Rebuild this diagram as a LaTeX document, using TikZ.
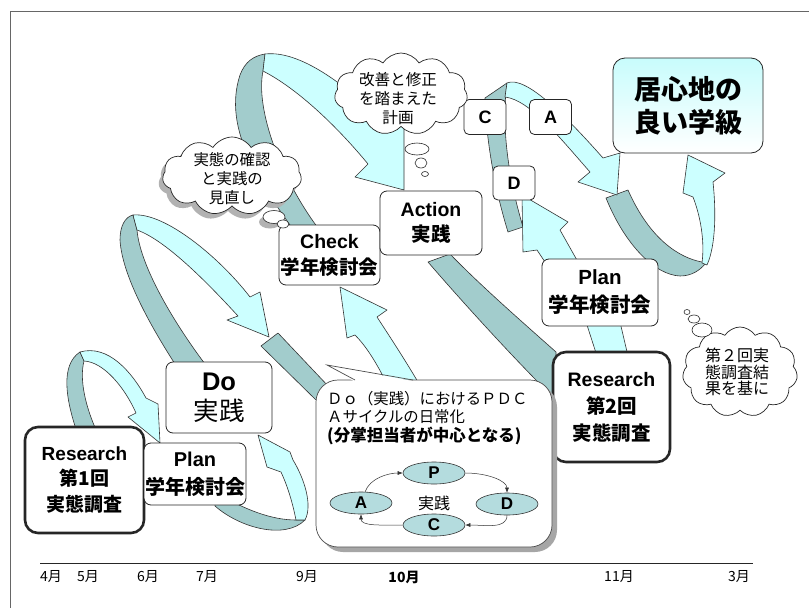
\documentclass[tikz,border=0pt]{standalone}
\usepackage{fontspec}
\setmainfont{Liberation Sans}
\newfontfamily\jp{Noto Sans CJK JP}
\usetikzlibrary{shapes.geometric,shapes.symbols,shadows,arrows.meta}
\definecolor{ribfront}{HTML}{CCFFFF}
\definecolor{ribback}{HTML}{A2CCCC}
\definecolor{ribedge}{HTML}{333333}
\definecolor{ellfill}{HTML}{B4DCDE}
\definecolor{goaltop}{HTML}{C8FCFC}
\newcommand\fs[2]{\fontsize{#1}{#2}\selectfont}
\begin{document}
\begin{tikzpicture}[x=1pt,y=-1pt,
 back/.style={fill=ribback, draw=ribedge, line width=0.6pt, line join=round},
 front/.style={fill=ribfront, draw=ribedge, line width=0.6pt, line join=round},
 box/.style={draw=black!85, fill=white, rounded corners=7pt, line width=0.8pt, align=center, inner sep=1pt},
 rbox/.style={box, line width=2.6pt, rounded corners=13pt},
 letterbox/.style={box, font=\fs{18}{20}\bfseries, rounded corners=5pt, minimum width=42pt, minimum height=35pt},
 month/.style={font=\jp\fs{14}{16}, inner sep=0pt},
 thought/.style={cloud, cloud puffs=11, cloud puff arc=115, cloud ignores aspect, draw=black!85, fill=white, line width=0.7pt, inner sep=0pt},
 ctext/.style={align=center, inner sep=0pt},
 bubble/.style={ellipse, draw=black!85, fill=white, line width=0.6pt, inner sep=0pt},
 pdca/.style={ellipse, draw=black!80, fill=ellfill, line width=0.6pt, minimum width=62pt, minimum height=22pt, inner sep=0pt, font=\fs{17}{18}\bfseries},
 cyc/.style={draw=black!80, line width=0.5pt, -{Latex[length=5pt,width=4pt]}},
 lshad/.style={drop shadow={shadow xshift=-4pt, shadow yshift=-5pt, fill=black!30, opacity=1}},
]
\useasboundingbox (0,0) rectangle (809,608);
\fill[white] (0,0) rectangle (809,608);
% frame
\draw[black!60, line width=0.8pt] (10,608) -- (10,11) -- (809,11);
% timeline
\draw[black!85, line width=0.7pt] (40,563) -- (753,563);
\node[month] (m4) at (51,577) {4月};
\node[month] (m5) at (88,577) {5月};
\node[month] (m6) at (148,577) {6月};
\node[month] (m7) at (207,577) {7月};
\node[month] (m9) at (307,577) {9月};
\node[month, font=\jp\fs{14}{16}\bfseries] (m10) at (404,577) {10月};
\node[month] (m11) at (619,577) {11月};
\node[month] (m3) at (739,577) {3月};

% ---------- ribbons: back sides ----------
\path[back] (77,432) .. controls (66,400) and (60,365) .. (80,352) -- (84,361) .. controls (79,380) and (86,408) .. (97,432) -- cycle;
\path[back] (215,492) .. controls (245,510) and (272,520) .. (296,520) -- (305,520) .. controls (285,540) and (240,528) .. (215,506) -- cycle;
\path[back] (175,364) .. controls (150,325) and (122,275) .. (120,240) .. controls (120,226) and (125,217) .. (133,215) -- (137,230) .. controls (140,265) and (172,320) .. (205,364) -- cycle;
\path[back] (261,346) -- (278,333) -- (330,388) -- (316,400) -- cycle;
\path[back] (292,228) .. controls (262,185) and (222,130) .. (240,75) .. controls (245,62) and (253,56) .. (265,54) -- (263,71) .. controls (255,110) and (282,180) .. (318,228) -- cycle;
\path[back] (428,262) -- (450,254) .. controls (480,285) and (520,320) .. (556,352) -- (556,400) .. controls (520,365) and (465,305) .. (428,262) -- cycle;
\path[back] (507,83) -- (485,98) .. controls (486,140) and (495,190) .. (508,232) -- (523,227) .. controls (512,190) and (500,135) .. (507,83) -- cycle;
\path[back] (606,198) .. controls (625,245) and (655,275) .. (680,276) .. controls (692,276) and (700,270) .. (705,264) -- (702,262) .. controls (680,258) and (650,240) .. (628,190) -- cycle;

% ---------- ribbons: front sides ----------
\path[front] (80,352) .. controls (108,344) and (132,372) .. (146,398) -- (158,404) -- (160,443) -- (128,417) -- (136,413) .. controls (125,388) and (104,362) .. (84,361) -- cycle;
\path[front] (296,520) .. controls (292,500) and (287,485) .. (281,472) -- (267,467) -- (258,435) -- (290,452) -- (293,460) .. controls (304,478) and (313,505) .. (305,520) -- cycle;
\path[front] (133,215) .. controls (165,212) and (220,258) .. (250,297) -- (260,292) -- (269,337) -- (227,320) -- (238,316) .. controls (205,280) and (165,240) .. (137,230) -- cycle;
\path[front] (386,382) .. controls (375,360) and (365,345) .. (355,335) -- (347,338) -- (340,287) -- (387,310) -- (377,317) .. controls (392,340) and (405,360) .. (418,382) -- cycle;
\path[front] (265,54) .. controls (300,50) and (345,85) .. (380,118) -- (404,125) -- (404,190) -- (355,177) -- (368,164) .. controls (340,130) and (300,90) .. (263,71) -- cycle;
\path[front] (586,322) -- (620,322) -- (628,356) -- (597,356) -- cycle;
\path[front] (545,262) -- (537,250) -- (523,252) -- (522,195) -- (568,222) -- (560,230) -- (578,262) -- cycle;
\path[front] (507,83) .. controls (525,75) and (565,115) .. (603,158) -- (620,153) -- (617,195) -- (578,182) -- (590,172) .. controls (560,138) and (530,100) .. (505,97) -- cycle;
\path[front] (702,263) .. controls (705,240) and (700,215) .. (693,197) -- (683,193) -- (688,155) -- (725,173) -- (713,182) .. controls (716,210) and (716,245) .. (707,265) -- cycle;

% ---------- boxes ----------
\node[rbox, minimum width=119pt, minimum height=106pt, font=\fs{19}{25.5}\bfseries] (r1) at (84.5,480)
  {Research\\{\jp 第1回}\\{\jp 実態調査}};
\node[box, minimum width=96pt, minimum height=62pt, font=\fs{20}{28}\bfseries] (p1) at (195,474)
  {Plan\\{\jp 学年検討会}};
\node[box, minimum width=106pt, minimum height=71pt, font=\fs{25.5}{30}] (do) at (219,397.5)
  {{\bfseries Do}\\{\jp 実践}};
\node[box, minimum width=101pt, minimum height=60pt, font=\fs{19.5}{26}\bfseries] (ck) at (329.5,255)
  {Check\\{\jp 学年検討会}};
\node[box, minimum width=102pt, minimum height=64pt, font=\fs{19.5}{24.5}\bfseries] (ac) at (431,223)
  {Action\\{\jp 実践}};
\node[letterbox] (bc) at (485,117) {C};
\node[letterbox] (ba) at (550.5,117) {A};
\node[letterbox, minimum height=34pt] (bd) at (514,183) {D};
\node[box, rounded corners=12pt, top color=goaltop, bottom color=white, minimum width=150pt, minimum height=95pt, font=\jp\fs{27}{33}\bfseries] (goal) at (688,105.5)
  {居心地の\\良い学級};
\node[box, minimum width=116pt, minimum height=67pt, font=\fs{20.5}{28}\bfseries] (p2) at (600,292.5)
  {Plan\\{\jp 学年検討会}};
\node[rbox, minimum width=117pt, minimum height=110pt, font=\fs{19.5}{27}\bfseries] (r2) at (611.5,407)
  {Research\\{\jp 第2回}\\{\jp 実態調査}};

% ---------- callout ----------
\node[draw=black!70, fill=white, line width=0.7pt, rounded corners=22pt, minimum width=236pt, minimum height=167pt, inner sep=0pt,
  drop shadow={shadow xshift=5pt, shadow yshift=-5pt, fill=black!35, opacity=1}] (cb) at (434,463.5) {};
\coordinate (tailtip) at (327,365);
\fill[white] (354,381.3) -- (tailtip) -- (414,381.3) -- cycle;
\draw[black!70, line width=0.7pt] (355,380) -- (tailtip) -- (413,380);
\node[anchor=west, align=left, inner sep=0pt, font=\jp\fs{15.4}{18.5}] (ct) at (327,418)
  {Ｄｏ（実践）におけるＰＤＣ\\Ａサイクルの日常化\\{\bfseries\fs{16.5}{18.5}(分掌担当者が中心となる)}};
\node[pdca] (ep) at (434,473) {P};
\node[pdca] (ed) at (507,504) {D};
\node[pdca] (ec) at (434,525) {C};
\node[pdca] (ea) at (361,503) {A};
\node[font=\jp\fs{16}{18}, inner sep=0pt] (ej) at (434,503) {実践};
\draw[cyc] (ea.70) .. controls +(5,-14) and +(-14,0) .. (ep.west);
\draw[cyc] (ep.east) .. controls +(22,0) and +(0,-12) .. (ed.north);
\draw[cyc] (ed.south) .. controls +(0,14) and +(20,0) .. (ec.east);
\draw[cyc] (ec.west) .. controls +(-22,0) and +(0,12) .. (ea.south);

% ---------- thought clouds ----------
\node[thought, lshad, minimum width=139pt, minimum height=78pt] (cl1) at (232,176) {};
\node[ctext, font=\jp\fs{15.4}{19}] (t1) at (232,179) {実態の確認\\と実践の\\見直し};
\node[bubble, lshad, minimum width=22pt, minimum height=13pt] (b1a) at (274,217) {};
\node[bubble, minimum width=12pt, minimum height=8pt] (b1b) at (283,224) {};

\node[thought, minimum width=133pt, minimum height=82pt] (cl2) at (401,94) {};
\node[ctext, font=\jp\fs{15.6}{19}] (t2) at (398,99) {改善と修正\\を踏まえた\\計画};
\node[bubble, minimum width=24pt, minimum height=12pt] (b2a) at (417,149) {};
\node[bubble, minimum width=12pt, minimum height=10pt] (b2b) at (421,163) {};
\node[bubble, minimum width=7pt, minimum height=5pt] (b2c) at (425,174) {};

\node[thought, minimum width=115pt, minimum height=90pt] (cl3) at (740,372) {};
\node[ctext, font=\jp\fs{16}{16.5}] (t3) at (737,372) {第２回実\\態調査結\\果を基に};
\node[bubble, minimum width=20pt, minimum height=14pt] (b3a) at (702,330) {};
\node[bubble, minimum width=12pt, minimum height=8pt] (b3b) at (694,319) {};
\node[bubble, minimum width=6pt, minimum height=5pt] (b3c) at (687,312) {};
\end{tikzpicture}
\end{document}
